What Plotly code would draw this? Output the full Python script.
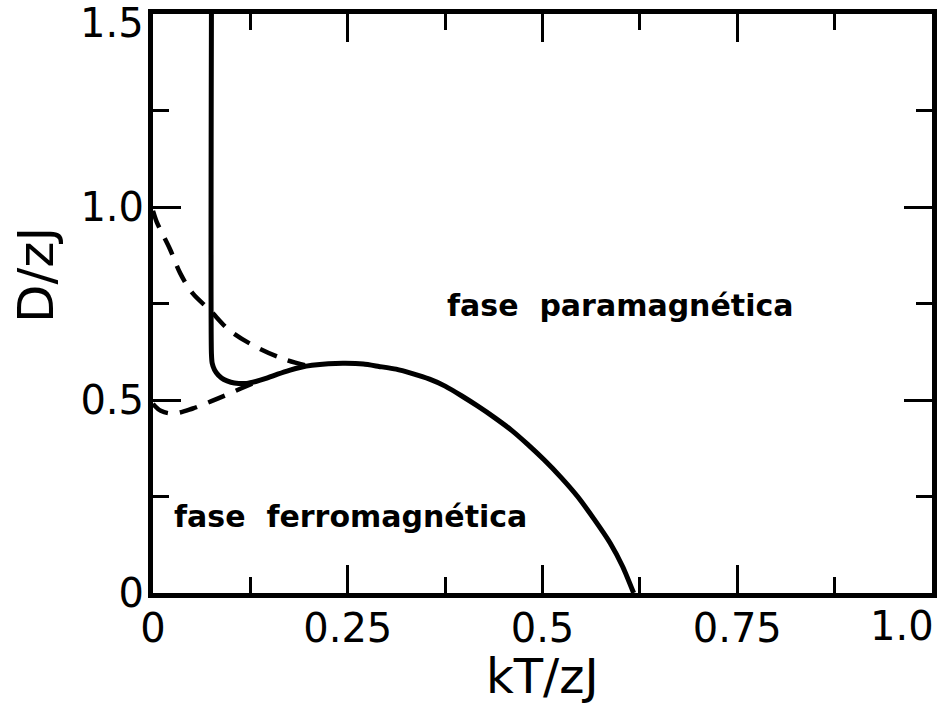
import plotly.graph_objects as go

# Phase boundary (solid): first-order vertical branch joining the critical curve
boundary_x = [0.075, 0.075, 0.076, 0.079, 0.084, 0.091, 0.100, 0.110, 0.120, 0.132,
              0.145, 0.160, 0.175, 0.190, 0.204, 0.225, 0.247, 0.270, 0.290, 0.312,
              0.332, 0.355, 0.375, 0.396, 0.417, 0.438, 0.460, 0.481, 0.502, 0.524,
              0.545, 0.566, 0.587, 0.603, 0.617]
boundary_y = [1.500, 0.620, 0.595, 0.578, 0.564, 0.553, 0.546, 0.543, 0.543, 0.548,
              0.556, 0.567, 0.577, 0.585, 0.590, 0.594, 0.595, 0.593, 0.587, 0.580,
              0.569, 0.554, 0.536, 0.511, 0.484, 0.455, 0.422, 0.385, 0.345, 0.299,
              0.250, 0.192, 0.129, 0.068, 0.000]

# Metastability limits (dashed)
upper_dash_x = [0.000, 0.005, 0.011, 0.022, 0.035, 0.051, 0.073, 0.098, 0.132, 0.171, 0.200]
upper_dash_y = [0.990, 0.960, 0.935, 0.890, 0.828, 0.776, 0.733, 0.681, 0.638, 0.604, 0.588]

lower_dash_x = [0.000, 0.010, 0.026, 0.051, 0.075, 0.094, 0.112, 0.128]
lower_dash_y = [0.490, 0.472, 0.465, 0.478, 0.497, 0.513, 0.529, 0.543]

x_tick_vals = [0, 0.25, 0.5, 0.75, 1.0]
x_tick_text = ["0", "0.25", "0.5", "0.75", ""]
y_tick_vals = [0, 0.5, 1.0, 1.5]
y_tick_text = ["0", "0.5", "1.0", ""]
x_end_label = "1.0"
y_end_label = "1.5"

label_font = "DejaVu Sans, sans-serif"

fig = go.Figure()
fig.add_trace(go.Scatter(x=upper_dash_x, y=upper_dash_y, mode="lines",
                         line=dict(color="black", width=4.5, dash="18px,12px", shape="spline"),
                         showlegend=False, hoverinfo="skip"))
fig.add_trace(go.Scatter(x=lower_dash_x, y=lower_dash_y, mode="lines",
                         line=dict(color="black", width=4.5, dash="18px,12px", shape="spline"),
                         showlegend=False, hoverinfo="skip"))
fig.add_trace(go.Scatter(x=boundary_x, y=boundary_y, mode="lines",
                         line=dict(color="black", width=5, shape="spline", smoothing=0.6),
                         showlegend=False, hoverinfo="skip"))

fig.add_annotation(x=0.60, y=0.746, xref="x", yref="y", showarrow=False,
                   text="fase  paramagnética",
                   font=dict(family=label_font, size=30, color="black", weight="bold"))
fig.add_annotation(x=0.253, y=0.197, xref="x", yref="y", showarrow=False,
                   text="fase  ferromagnética",
                   font=dict(family=label_font, size=30, color="black", weight="bold"))

# Tick labels at the far ends of the axes, pulled inside the page
fig.add_annotation(x=1.0, y=0, xref="paper", yref="paper", xanchor="right", yanchor="top",
                   xshift=4, yshift=-8, showarrow=False, text=x_end_label,
                   font=dict(family=label_font, size=40, color="black"))
fig.add_annotation(x=0, y=1, xref="paper", yref="paper", xanchor="right", yanchor="middle",
                   xshift=-7, yshift=-9, showarrow=False, text=y_end_label,
                   font=dict(family=label_font, size=40, color="black"))

# Axis titles
fig.add_annotation(x=0.5, y=0, xref="paper", yref="paper", yanchor="middle", yshift=-83,
                   showarrow=False, text="kT/zJ",
                   font=dict(family=label_font, size=48, color="black"))
fig.add_annotation(x=0, y=(593 - 275) / 579, xref="paper", yref="paper",
                   xanchor="center", yanchor="middle", xshift=-117,
                   showarrow=False, text="D/zJ", textangle=-90,
                   font=dict(family=label_font, size=50, color="black"))

axis_common = dict(showline=True, linecolor="black", linewidth=5, mirror="allticks",
                   ticks="inside", ticklen=28, tickwidth=3, tickcolor="black",
                   showgrid=False, zeroline=False,
                   tickfont=dict(family=label_font, size=40, color="black"))

fig.update_xaxes(range=[0, 1.0], tickvals=x_tick_vals, ticktext=x_tick_text,
                 ticklabelstandoff=-4,
                 minor=dict(dtick=0.125, ticks="inside", ticklen=16, tickwidth=3,
                            tickcolor="black", showgrid=False),
                 **axis_common)
fig.update_yaxes(range=[0, 1.5], tickvals=y_tick_vals, ticktext=y_tick_text,
                 ticklabelstandoff=-4,
                 minor=dict(dtick=0.25, ticks="inside", ticklen=16, tickwidth=3,
                            tickcolor="black", showgrid=False),
                 **axis_common)

fig.update_layout(width=946, height=706,
                  margin=dict(l=153, r=9, t=14, b=113),
                  paper_bgcolor="white", plot_bgcolor="white")

fig.write_html("out.html")
